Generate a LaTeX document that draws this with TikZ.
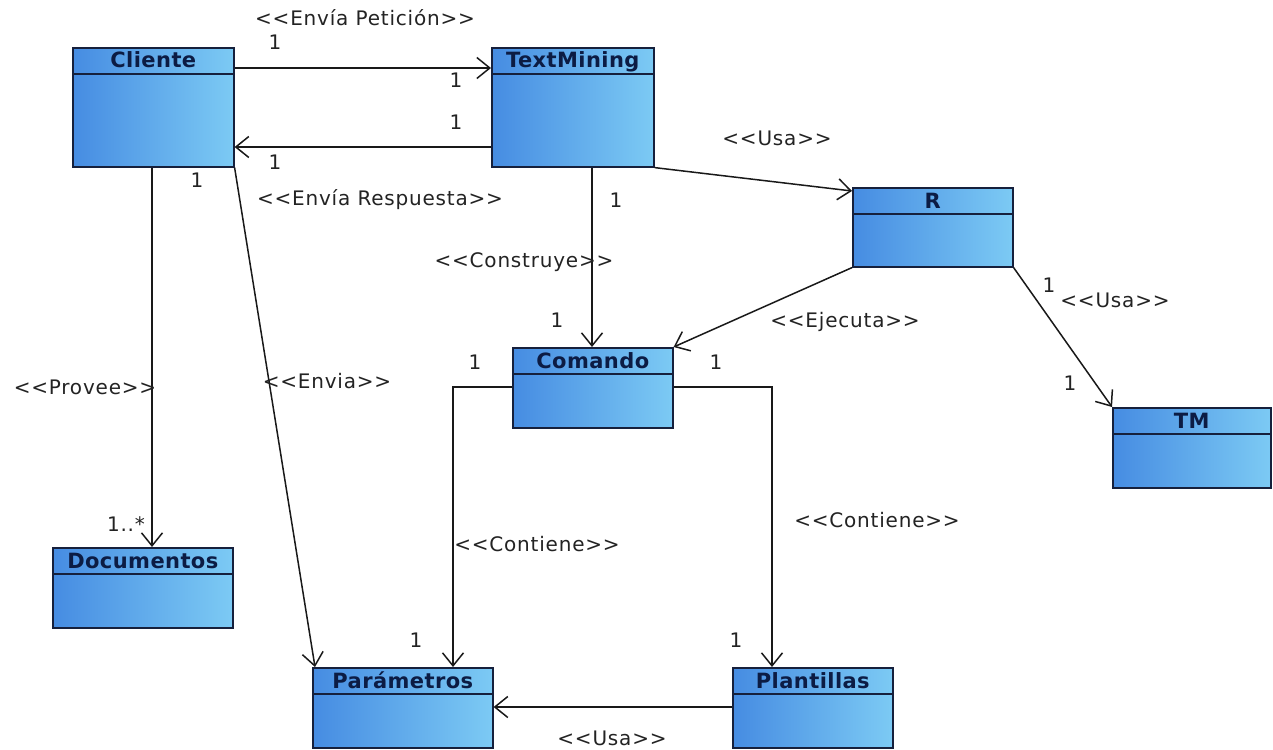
\documentclass[tikz,border=0pt]{standalone}
\usepackage{fontspec}
\usetikzlibrary{arrows.meta,calc}
\newfontfamily\umlfont{DejaVu Sans}
\newfontfamily\umlboldfont{DejaVu Sans Bold}
\definecolor{boxleft}{RGB}{70,140,226}
\definecolor{boxright}{RGB}{124,202,244}
\definecolor{boxedge}{RGB}{22,32,60}
\definecolor{titleink}{RGB}{12,28,68}
\definecolor{labelink}{RGB}{35,35,35}

% class box: name, left, top, width, height, title
\newcommand\umlclass[6]{%
  \node[classbox, minimum width=#4pt, minimum height=#5pt, anchor=north west] (#1) at (#2,#3) {};
  \draw[classline] ([yshift=-27pt]#1.north west) -- ([yshift=-27pt]#1.north east);
  \node[classtitle, anchor=base] (#1-title) at ([yshift=-21pt]#1.north) {#6};
}

\begin{document}
\begin{tikzpicture}[x=1pt,y=-1pt,
  classbox/.style={draw=boxedge, line width=1.6pt, left color=boxleft, right color=boxright, inner sep=0pt},
  classline/.style={draw=boxedge, line width=1.6pt},
  classtitle/.style={font=\umlboldfont\fontsize{21}{23}\selectfont\addfontfeatures{LetterSpace=2}, text=titleink, inner sep=0pt},
  assoc/.style={line width=1.5pt, draw=black!90, -{Straight Barb[length=13pt,width=21pt,line width=1.5pt]}},
  lbl/.style={font=\umlfont\fontsize{20}{22}\selectfont\addfontfeatures{LetterSpace=4}, text=labelink, inner sep=0pt},
]
\useasboundingbox[fill=white] (0,0) rectangle (1273,749);

% classes
\umlclass{cliente}{72}{47}{161}{119}{Cliente}
\umlclass{textmining}{491}{47}{162}{119}{TextMining}
\umlclass{r}{852}{187}{160}{79}{R}
\umlclass{comando}{512}{347}{160}{80}{Comando}
\umlclass{tm}{1112}{407}{158}{80}{TM}
\umlclass{documentos}{52}{547}{180}{80}{Documentos}
\umlclass{parametros}{312}{667}{180}{80}{Parámetros}
\umlclass{plantillas}{732}{667}{160}{80}{Plantillas}

% associations
\draw[assoc] (cliente.east |- 0,68) -- (textmining.west |- 0,68);
\draw[assoc] (textmining.west |- 0,147) -- (cliente.east |- 0,147);
\draw[assoc] (textmining.south east) -- (r.west |- 0,191);
\draw[assoc] (textmining.south -| 592,0) -- (comando.north -| 592,0);
\draw[assoc] (r.south west) -- (comando.north east);
\draw[assoc] (r.south east) -- (tm.north west);
\draw[assoc] (cliente.south -| 152,0) -- (documentos.north -| 152,0);
\draw[assoc] (cliente.south east) -- ([xshift=3pt]parametros.north west);
\draw[assoc] (comando.west |- 0,387) -| (parametros.north -| 453,0);
\draw[assoc] (comando.east |- 0,387) -| (plantillas.north -| 772,0);
\draw[assoc] (plantillas.west |- 0,707) -- (parametros.east |- 0,707);

% stereotypes and multiplicities
\node[lbl] (l-pet) at (365,18) {<<Envía Petición>>};
\node[lbl] (m-pet-a) at (275,42) {1};
\node[lbl] (m-pet-b) at (456,80) {1};
\node[lbl] (m-res-a) at (456,122) {1};
\node[lbl] (m-res-b) at (275,162) {1};
\node[lbl] (l-res) at (380,200) {<<Envía Respuesta>>};
\node[lbl] (l-usa-r) at (777,138) {<<Usa>>};
\node[lbl] (m-con-a) at (616,200) {1};
\node[lbl] (l-con) at (524,262) {<<Construye>>};
\node[lbl] (m-con-b) at (557,320) {1};
\node[lbl] (l-eje) at (845,322) {<<Ejecuta>>};
\node[lbl] (m-eje) at (716,362) {1};
\node[lbl] (m-tm-a) at (1049,285) {1};
\node[lbl] (l-usa-tm) at (1115,300) {<<Usa>>};
\node[lbl] (m-tm-b) at (1070,383) {1};
\node[lbl] (m-cli) at (197,180) {1};
\node[lbl] (l-pro) at (85,387) {<<Provee>>};
\node[lbl] (m-doc) at (126,524) {1..*};
\node[lbl] (l-env) at (327,381) {<<Envia>>};
\node[lbl] (m-par-a) at (475,362) {1};
\node[lbl] (l-cont-a) at (537,544) {<<Contiene>>};
\node[lbl] (m-par-b) at (416,640) {1};
\node[lbl] (l-cont-b) at (877,520) {<<Contiene>>};
\node[lbl] (m-pla) at (736,640) {1};
\node[lbl] (l-usa-p) at (612,738) {<<Usa>>};
\end{tikzpicture}
\end{document}
